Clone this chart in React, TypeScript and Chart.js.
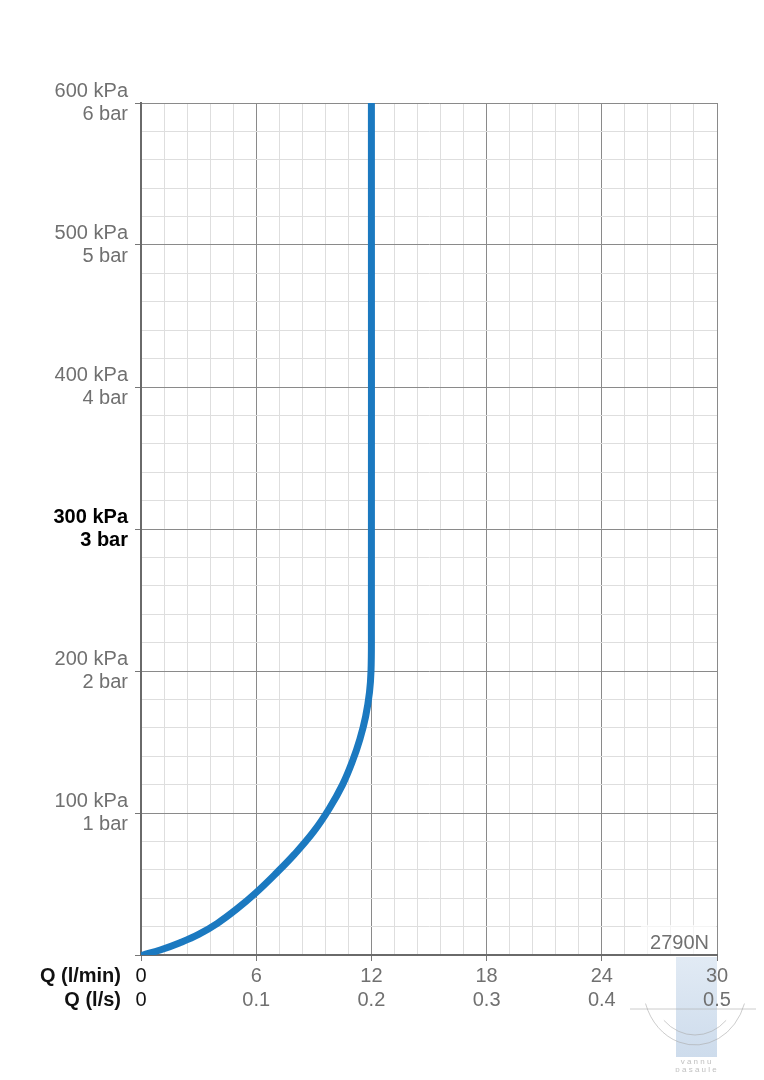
import React, { useEffect, useRef } from 'react';
import { Chart, registerables } from 'chart.js';

Chart.register(...registerables);

// Flow (l/min) and pressure (kPa) along the curve
const flowLpm = [0.1, 1.0, 2.0, 3.0, 4.0, 5.0, 6.0, 7.0, 8.0, 9.0, 9.8, 10.5, 11.0, 11.4, 11.7, 11.9, 11.98, 12.0, 12.0];
const pressureKpa = [0, 3.5, 8.5, 14.5, 22.5, 32.5, 44, 57, 71, 87, 103, 120, 136, 152, 168, 185, 200, 225, 600];

const xTickLpm = [0, 6, 12, 18, 24, 30];
const xTickLps = ['0', '0.1', '0.2', '0.3', '0.4', '0.5'];
const yTickValues = [100, 200, 300, 400, 500, 600];
const yTickKpa = ['100 kPa', '200 kPa', '300 kPa', '400 kPa', '500 kPa', '600 kPa'];
const yTickBar = ['1 bar', '2 bar', '3 bar', '4 bar', '5 bar', '6 bar'];
const highlightPressure = 300;
const xAxisTitles = ['Q (l/min)', 'Q (l/s)'];
const modelLabel = '2790N';
const watermarkText = ['v a n n u', 'p a s a u l e'];

const FONT = "'Liberation Sans', Arial, Helvetica, sans-serif";
const GRAY_TEXT = '#707070';
const MAJOR = '#8a8a8a';
const MINOR = '#dedede';
const LINE_H = 1.17;
const FONT_SIZE = 20;
const TICK_LEN = 6;
const X_PAD = 4;

const isMajorX = (v: number) => xTickLpm.some((t) => Math.abs(t - v) < 1e-6);
const isMajorY = (v: number) => Math.abs(v / 100 - Math.round(v / 100)) < 1e-6;

const extras = {
  id: 'extras',
  beforeDraw(chart: any) {
    const ctx = chart.ctx;
    const area = chart.chartArea;
    ctx.save();
    // watermark
    const left = area.right - 41;
    const top = area.bottom + 2;
    const g = ctx.createLinearGradient(0, top, 0, top + 100);
    g.addColorStop(0, 'rgba(222,232,243,0.9)');
    g.addColorStop(1, 'rgba(200,216,234,0.9)');
    ctx.fillStyle = g;
    ctx.fillRect(left, top, 41, 100);
    ctx.strokeStyle = 'rgba(170,170,170,0.6)';
    ctx.lineWidth = 1;
    ctx.beginPath();
    ctx.ellipse(area.right - 22, area.bottom + 30, 52, 60, 0, 0.1 * Math.PI, 0.9 * Math.PI);
    ctx.stroke();
    ctx.beginPath();
    ctx.ellipse(area.right - 22, area.bottom + 30, 44, 50, 0, 0.25 * Math.PI, 0.75 * Math.PI);
    ctx.stroke();
    ctx.beginPath();
    ctx.moveTo(area.right - 87, area.bottom + 54);
    ctx.lineTo(area.right + 46, area.bottom + 54);
    ctx.stroke();
    ctx.fillStyle = 'rgba(175,175,175,0.8)';
    ctx.font = `8px ${FONT}`;
    ctx.textAlign = 'center';
    ctx.textBaseline = 'middle';
    ctx.fillText(watermarkText[0], area.right - 21, area.bottom + 107);
    ctx.fillText(watermarkText[1], area.right - 21, area.bottom + 115);
    ctx.restore();
  },
  beforeDatasetsDraw(chart: any) {
    const ctx = chart.ctx;
    const area = chart.chartArea;
    ctx.save();
    ctx.fillStyle = 'rgba(255,255,255,0.65)';
    ctx.fillRect(area.right - 76, area.bottom - 30, 75, 29);
    ctx.fillStyle = GRAY_TEXT;
    ctx.font = `${FONT_SIZE}px ${FONT}`;
    ctx.textAlign = 'right';
    ctx.textBaseline = 'middle';
    ctx.fillText(modelLabel, area.right - 8, area.bottom - 12);
    ctx.restore();
  },
  afterDraw(chart: any) {
    const ctx = chart.ctx;
    const xs = chart.scales.x;
    const lh = FONT_SIZE * LINE_H;
    const y0 = xs.top + TICK_LEN + X_PAD + lh / 2;
    ctx.save();
    ctx.fillStyle = '#111';
    ctx.font = `bold ${FONT_SIZE}px ${FONT}`;
    ctx.textAlign = 'right';
    ctx.textBaseline = 'middle';
    ctx.fillText(xAxisTitles[0], 113, y0);
    ctx.fillText(xAxisTitles[1], 113, y0 + lh);
    ctx.restore();
  },
};

export default function App() {
  const ref = useRef<HTMLCanvasElement | null>(null);

  useEffect(() => {
    if (!ref.current) return;
    const data = flowLpm.map((q, i) => ({ x: q, y: pressureKpa[i] }));
    const chart = new Chart(ref.current, {
      type: 'line',
      data: {
        datasets: [
          {
            data,
            borderColor: '#1b79c0',
            borderWidth: 7,
            pointRadius: 0,
            fill: false,
            tension: 0.4,
            borderCapStyle: 'round',
            borderJoinStyle: 'round',
          },
        ],
      },
      plugins: [extras],
      options: {
        animation: false,
        responsive: false,
        maintainAspectRatio: false,
        layout: { padding: { left: 0, right: 39, top: 95, bottom: 57 } },
        plugins: { legend: { display: false }, tooltip: { enabled: false } },
        scales: {
          x: {
            type: 'linear',
            min: 0,
            max: 30,
            afterFit: (s: any) => {
              s.height = 60;
            },
            border: { color: '#6a6a6a', width: 2 },
            grid: {
              color: (c: any) => (isMajorX(c.tick.value) ? MAJOR : MINOR),
              tickColor: (c: any) => (isMajorX(c.tick.value) ? '#777' : 'rgba(0,0,0,0)'),
              tickLength: TICK_LEN,
              lineWidth: 1,
            },
            ticks: {
              stepSize: 1.2,
              autoSkip: false,
              maxRotation: 0,
              minRotation: 0,
              padding: X_PAD,
              color: (c: any) => (c.tick && Math.abs(c.tick.value) < 1e-6 ? '#111' : GRAY_TEXT),
              font: { family: FONT, size: FONT_SIZE, lineHeight: LINE_H },
              callback: (v: any) => {
                const i = xTickLpm.findIndex((t) => Math.abs(t - Number(v)) < 1e-6);
                return i >= 0 ? [String(xTickLpm[i]), xTickLps[i]] : '';
              },
            },
          },
          y: {
            type: 'linear',
            min: 0,
            max: 600,
            afterFit: (s: any) => {
              s.width = 133;
            },
            border: { color: '#6a6a6a', width: 2 },
            grid: {
              color: (c: any) => (isMajorY(c.tick.value) ? MAJOR : MINOR),
              tickColor: (c: any) => (isMajorY(c.tick.value) ? '#777' : 'rgba(0,0,0,0)'),
              tickLength: TICK_LEN,
              lineWidth: 1,
            },
            ticks: {
              stepSize: 20,
              autoSkip: false,
              padding: 7,
              color: (c: any) => (c.tick && c.tick.value === highlightPressure ? '#000' : GRAY_TEXT),
              font: (c: any) => ({
                family: FONT,
                size: FONT_SIZE,
                lineHeight: LINE_H,
                weight: c.tick && c.tick.value === highlightPressure ? 'bold' : 'normal',
              }),
              callback: (v: any) => {
                const i = yTickValues.indexOf(Math.round(Number(v)));
                return i >= 0 ? [yTickKpa[i], yTickBar[i]] : '';
              },
            },
          },
        },
      },
    } as any);
    return () => chart.destroy();
  }, []);

  return (
    <div style={{ width: 748, height: 1064, position: 'relative' }}>
      <canvas ref={ref} width={748} height={1064} style={{ display: 'block' }} />
    </div>
  );
}
